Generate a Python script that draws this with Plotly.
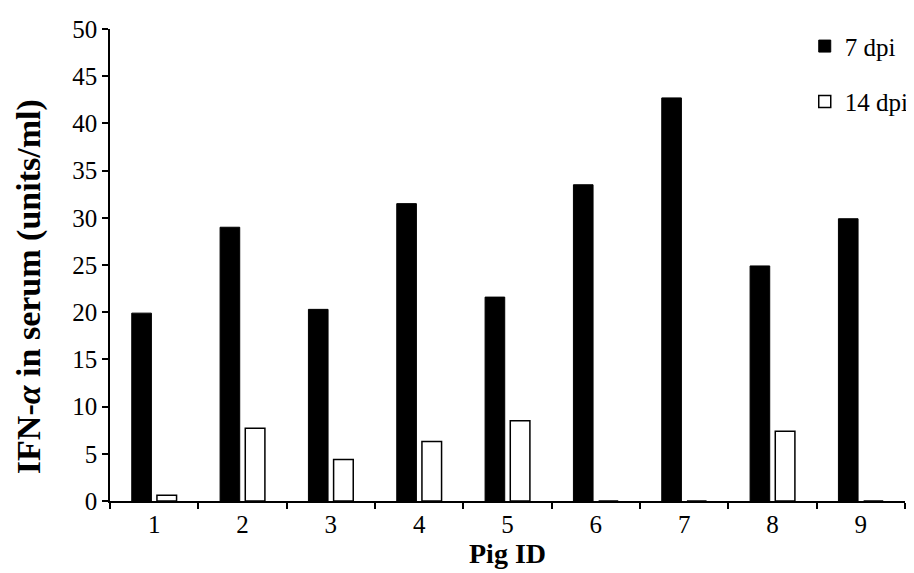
import plotly.graph_objects as go

pig_ids = ["1", "2", "3", "4", "5", "6", "7", "8", "9"]
dpi7 = [19.9, 29.0, 20.3, 31.5, 21.6, 33.5, 42.7, 24.9, 29.9]
dpi14 = [0.6, 7.7, 4.4, 6.3, 8.5, 0, 0, 7.4, 0]
y_ticks = [0, 5, 10, 15, 20, 25, 30, 35, 40, 45, 50]

FONT = "Liberation Serif, Times New Roman, serif"

fig = go.Figure()
fig.add_trace(go.Bar(x=pig_ids, y=dpi7, name="7 dpi", legendgroup="a",
                     marker=dict(color="black", line=dict(color="black", width=1))))
fig.add_trace(go.Bar(x=pig_ids, y=dpi14, name="14 dpi", legendgroup="b",
                     marker=dict(color="white", line=dict(color="black", width=1.5))))

fig.update_layout(
    width=914, height=573,
    margin=dict(l=102, r=8, t=17, b=80),
    paper_bgcolor="white", plot_bgcolor="white",
    font=dict(family=FONT, size=25, color="black"),
    barmode="group", bargap=0.43, bargroupgap=0.22,
    legend=dict(x=1.011, y=1.012, xanchor="right", yanchor="top",
                font=dict(size=25), tracegroupgap=20, itemwidth=30,
                bgcolor="rgba(0,0,0,0)"),
    annotations=[dict(
        text="<b>IFN-<i>α</i> in serum (units/ml)</b>", textangle=-90,
        xref="paper", yref="paper", x=-0.102, y=0.455,
        xanchor="center", yanchor="middle", showarrow=False,
        font=dict(family=FONT, size=34, color="black"),
    )],
)
fig.update_xaxes(
    type="category", showline=True, linecolor="black", linewidth=1.5,
    ticks="outside", tickson="boundaries", ticklen=6, tickwidth=1.5, tickcolor="black",
    showgrid=False, zeroline=False,
    title=dict(text="<b>Pig ID</b>", font=dict(size=28), standoff=3),
    tickfont=dict(size=25),
)
fig.update_yaxes(
    range=[0, 50], tickvals=y_ticks, showline=True, linecolor="black", linewidth=1.5,
    ticks="outside", ticklen=6, tickwidth=1.5, tickcolor="black",
    showgrid=False, zeroline=False,
    tickfont=dict(size=25),
)

fig.write_html("out.html")
